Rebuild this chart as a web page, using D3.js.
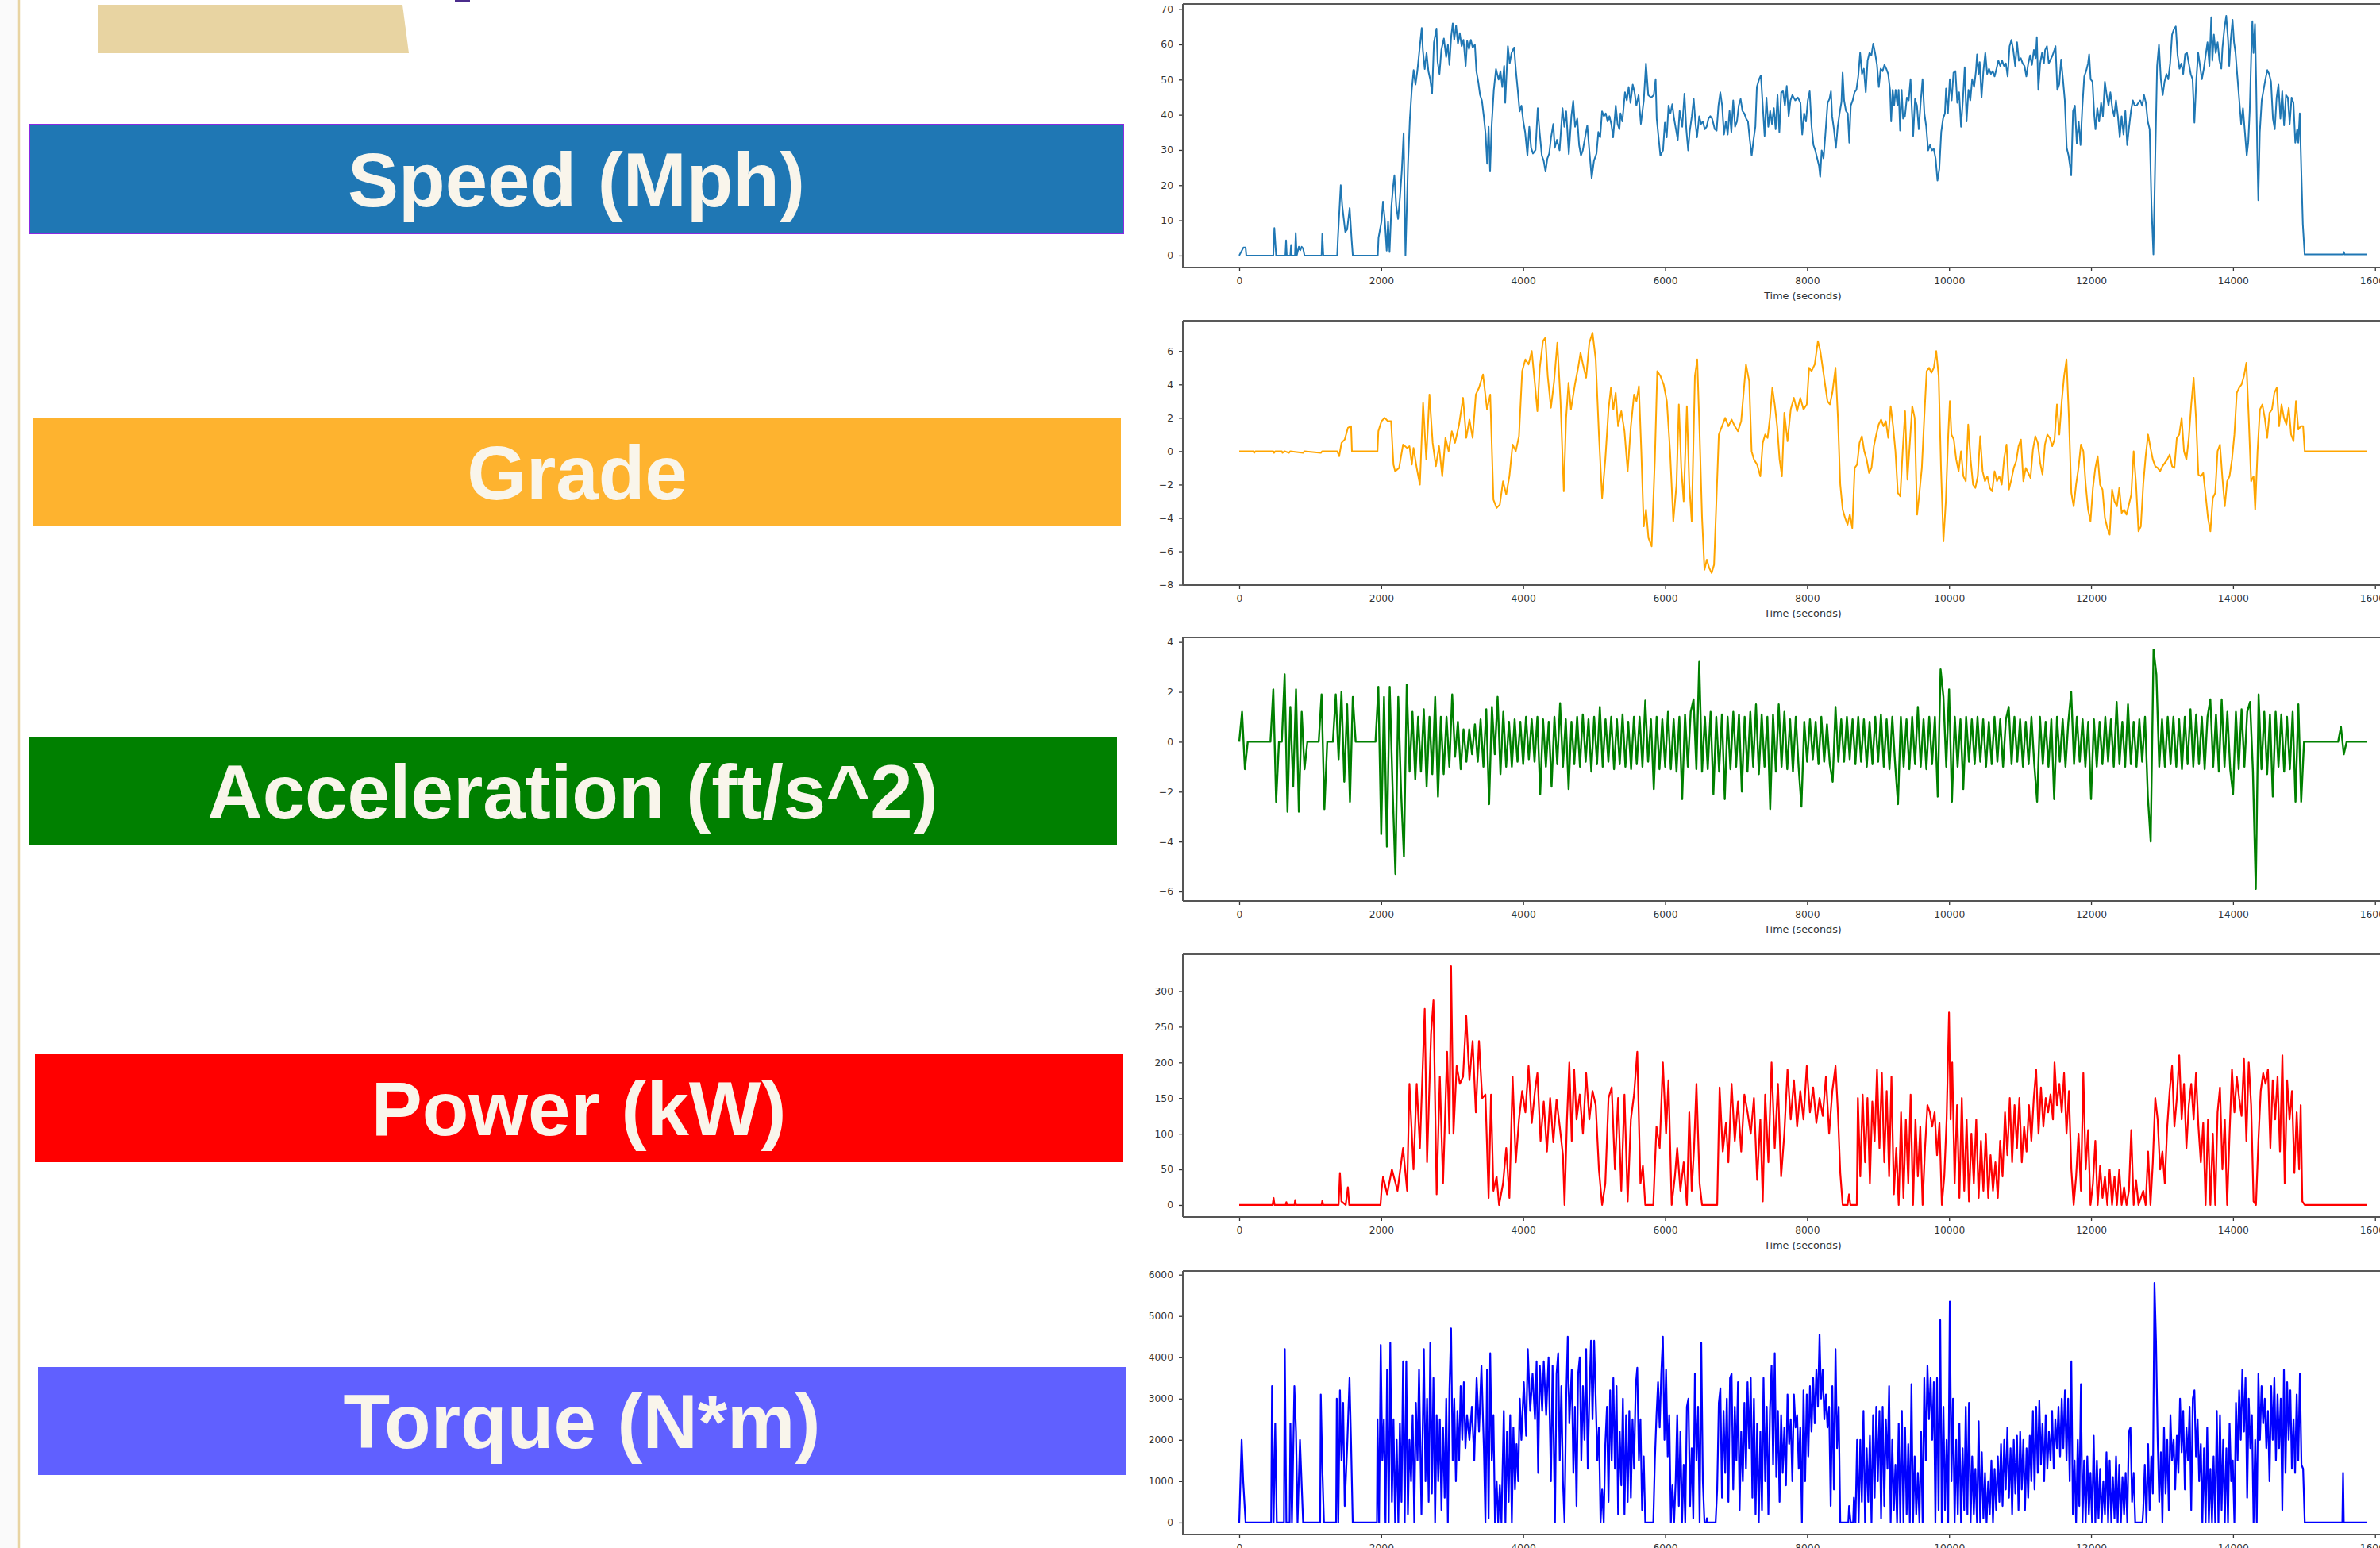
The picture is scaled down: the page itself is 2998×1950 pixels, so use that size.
<!DOCTYPE html>
<html>
<head>
<meta charset="utf-8">
<script src="https://cdn.jsdelivr.net/npm/d3@7"></script>
<style>
  body { margin: 0; background: #fff; }
  svg { display: block; }
</style>
</head>
<body>
<svg id="fig" width="2998" height="1950"></svg>
<script>
// ---- data ----
const timeTicks = [0, 2000, 4000, 6000, 8000, 10000, 12000, 14000, 16000];
const speedTicks = [0, 10, 20, 30, 40, 50, 60, 70];
const gradeTicks = [-8, -6, -4, -2, 0, 2, 4, 6];
const accelTicks = [-6, -4, -2, 0, 2, 4];
const powerTicks = [0, 50, 100, 150, 200, 250, 300];
const torqueTicks = [0, 1000, 2000, 3000, 4000, 5000, 6000];

// [time s, mph]
const speed = [[0,0],[60,2.3],[90,2.3],[100,0],[480,0],[495,7.8],[520,0],[650,0],[660,4.3],[670,0],[720,0],[730,3],[740,0],[785,0],[796,6.4],[810,0],[840,2.5],[860,1.5],[880,2.5],[900,2],[920,0],[1160,0],[1170,6.2],[1185,0],[1380,0],[1390,4.8],[1430,20],[1452,14],[1494,6.7],[1520,7.4],[1556,13.5],[1582,5],[1600,0],[1952,0],[1962,5],[2004,9.7],[2025,15.3],[2050,10.4],[2077,1.4],[2097,9.7],[2118,1],[2144,14],[2170,20],[2186,22.8],[2212,14],[2238,10.4],[2264,16.4],[2290,24],[2316,34.8],[2342,0],[2378,26],[2404,38.9],[2430,47],[2457,52.7],[2483,48.6],[2509,52.4],[2535,57.6],[2571,64.7],[2587,58.4],[2613,53],[2639,57.6],[2665,52.4],[2691,50],[2717,46],[2743,60.6],[2779,64.5],[2795,55],[2821,51.6],[2847,58.4],[2883,61.7],[2915,56.4],[2940,59.9],[2961,54.2],[2987,62.5],[3008,66],[3029,61.3],[3055,65.4],[3081,60.2],[3107,63.2],[3133,59.5],[3159,61.3],[3190,53.9],[3211,61],[3237,58.7],[3263,61.3],[3289,59.1],[3320,59.9],[3341,52.4],[3367,49.4],[3393,45.6],[3419,44],[3445,39.6],[3471,34.4],[3492,26.1],[3513,36.6],[3534,23.9],[3555,36.6],[3586,47],[3617,53],[3654,50],[3680,52.4],[3706,47.9],[3732,53.9],[3747,43.4],[3784,59.5],[3810,54.6],[3836,57.6],[3872,59.1],[3898,52.4],[3924,47],[3950,41],[3976,42.6],[4002,38.1],[4028,35],[4060,28.4],[4086,36.6],[4112,30.6],[4138,29],[4174,30],[4205,41.9],[4232,35],[4263,28.4],[4289,26.9],[4315,23.9],[4341,27.6],[4367,29],[4393,33.6],[4424,37.4],[4445,30.6],[4476,32.9],[4513,29.9],[4554,41.9],[4580,36.6],[4606,41],[4643,28.8],[4679,39.6],[4705,44],[4731,36.6],[4762,38.9],[4788,31.4],[4814,28.4],[4840,29.9],[4866,32.9],[4903,37],[4929,30.6],[4965,22],[4997,26.9],[5033,29],[5059,35.1],[5085,33.6],[5111,41],[5137,39.6],[5163,40.4],[5189,38.1],[5215,39.6],[5241,37.4],[5267,33.6],[5304,42.6],[5330,37.4],[5356,35.9],[5371,40.4],[5397,38.1],[5434,46.4],[5460,44.1],[5486,47.9],[5512,43.4],[5543,48.6],[5569,46.4],[5595,42.6],[5626,45.6],[5658,37.4],[5699,44.1],[5730,54.6],[5762,45.6],[5803,44.9],[5840,45.6],[5866,50.1],[5881,38.9],[5907,33.6],[5933,28.4],[5970,29.9],[5996,37.8],[6022,33.6],[6048,42.6],[6074,40.4],[6100,43],[6126,38.9],[6152,35.9],[6178,32.9],[6204,41.1],[6241,36.6],[6272,46],[6298,35.9],[6324,29.9],[6345,35.1],[6376,39.6],[6402,44.5],[6428,37.4],[6449,33.6],[6480,39.6],[6506,37.4],[6532,38.1],[6558,35.9],[6584,36.6],[6610,38.9],[6636,39.6],[6662,38.9],[6699,35.9],[6725,35.5],[6751,42.6],[6777,46.4],[6803,42.6],[6829,34.4],[6855,38.1],[6881,34.4],[6907,41.1],[6933,35.1],[6959,44.1],[6985,36.6],[7011,38.1],[7037,42.6],[7063,44.5],[7089,41.1],[7115,40.4],[7141,38.9],[7167,38.1],[7193,32.9],[7219,28.4],[7245,32.9],[7271,36.6],[7292,47.9],[7323,50.1],[7349,51.2],[7375,42.6],[7401,34],[7427,44.9],[7453,36.6],[7479,41.1],[7505,37.4],[7531,41.9],[7557,35.9],[7583,45.6],[7609,35.1],[7635,46.4],[7661,46.7],[7687,42.6],[7713,48.2],[7740,39.6],[7766,44.1],[7792,45.6],[7833,44.1],[7870,44.9],[7906,43.4],[7931,34.4],[7958,40.4],[7984,38.1],[8010,44.1],[8036,46.7],[8063,36.6],[8089,31.4],[8115,29.9],[8142,27.6],[8168,25.4],[8184,22.4],[8205,29.9],[8231,27.6],[8257,34.4],[8289,43.4],[8315,44.5],[8336,46.7],[8352,39.6],[8378,35.9],[8405,30.6],[8431,36.6],[8457,40.4],[8484,43.7],[8500,52],[8521,44.1],[8547,41.1],[8573,40.4],[8594,32.1],[8615,42.6],[8642,44.1],[8668,46.4],[8694,47.1],[8720,50.9],[8747,57.6],[8773,51.6],[8799,53.1],[8826,46.4],[8852,55.4],[8878,57.6],[8905,56.9],[8931,60.2],[8957,57.6],[8984,54.2],[9010,47.9],[9036,53.1],[9063,52.4],[9089,54.2],[9115,53.1],[9142,51.6],[9168,47.1],[9184,38.1],[9205,47.1],[9226,42.6],[9247,47.1],[9273,42.6],[9289,47.1],[9310,35.5],[9331,47.1],[9352,38.9],[9378,39.6],[9405,44.9],[9431,44.1],[9457,50.1],[9473,42.6],[9494,34],[9520,44.5],[9547,42.6],[9573,35.9],[9599,43.4],[9626,50.1],[9652,40.4],[9678,36.6],[9705,29.9],[9731,31.4],[9757,29.9],[9784,30.3],[9810,27.6],[9836,21.3],[9862,24.6],[9889,35.1],[9915,38.9],[9941,40.4],[9957,47.5],[9983,40.4],[10010,50.1],[10036,44.1],[10062,52],[10089,52.4],[10115,43.4],[10141,46.4],[10168,36.6],[10194,44.1],[10220,53.5],[10246,38.1],[10273,47.1],[10299,44.1],[10325,50.1],[10352,47.9],[10378,52.4],[10394,57.2],[10415,51.6],[10431,55],[10457,44.9],[10483,52.4],[10510,57.6],[10536,51.6],[10562,53.1],[10589,51.6],[10615,52.4],[10641,50.9],[10668,53.1],[10694,55.4],[10720,53.9],[10746,55.4],[10773,53.9],[10799,54.6],[10825,50.9],[10852,59.5],[10878,61.3],[10904,58.4],[10931,53.9],[10957,60.6],[10983,55.4],[11010,56.1],[11036,54.6],[11062,53.9],[11088,50.9],[11115,54.6],[11141,56.9],[11167,54.2],[11194,58.4],[11220,56.1],[11236,62.1],[11257,47.1],[11283,54.6],[11309,57.6],[11336,54.6],[11352,58.4],[11378,59.5],[11404,54.6],[11430,55.7],[11457,56.9],[11483,58.4],[11499,59.5],[11525,47.1],[11551,48.6],[11578,55.7],[11604,50.1],[11630,44.1],[11657,30.6],[11683,28.4],[11704,25.4],[11720,22.8],[11746,41.1],[11772,42.6],[11799,31.8],[11825,38.1],[11851,31.4],[11878,42.6],[11904,50.9],[11930,52.4],[11957,54.6],[11973,57.2],[11994,50.1],[12020,49.4],[12046,39.6],[12062,35.9],[12088,41.9],[12114,38.1],[12141,43.4],[12167,39.6],[12194,49.4],[12220,45.6],[12246,42.6],[12272,46.4],[12299,41.9],[12325,39.6],[12351,44.1],[12378,39.6],[12404,33.6],[12430,39.6],[12457,34.4],[12483,41.1],[12509,31.4],[12536,36.6],[12562,41.1],[12588,44.1],[12615,42.6],[12641,42.6],[12667,43.4],[12693,44.1],[12720,42.6],[12746,45.6],[12772,43.4],[12799,38.1],[12825,35.9],[12851,14.2],[12878,0.3],[12904,27.6],[12930,53.9],[12956,59.9],[12983,50.1],[13009,45.6],[13035,49.4],[13062,51.6],[13088,50.1],[13114,54.6],[13141,62.8],[13167,64.3],[13193,65.1],[13219,56.9],[13246,53.1],[13272,54.6],[13298,51.6],[13325,57.2],[13351,57.6],[13377,54.6],[13404,51.6],[13430,50.1],[13456,37.8],[13483,50.1],[13509,57.6],[13535,53.9],[13561,50.1],[13588,53.1],[13614,56.9],[13640,60.6],[13667,53.9],[13693,67.7],[13709,55.4],[13730,62.8],[13756,57.6],[13783,60.6],[13809,55.4],[13835,53.1],[13851,59.1],[13877,64.3],[13904,68.1],[13930,61.3],[13946,53.9],[13967,61.3],[13993,67],[14014,60.6],[14035,57.6],[14061,50.9],[14088,44.1],[14114,37.4],[14140,41.9],[14167,35.1],[14193,28.4],[14214,32.1],[14235,41.1],[14256,56.9],[14272,66.6],[14288,57.6],[14309,65.8],[14325,50.1],[14340,30.6],[14356,15.7],[14377,35.1],[14404,44.1],[14430,47.1],[14456,50.1],[14483,52.7],[14509,51.6],[14535,49.4],[14562,38.9],[14588,35.9],[14614,44.9],[14640,48.6],[14667,38.9],[14693,46.7],[14719,37],[14746,45.6],[14772,44.9],[14798,37.4],[14825,44.9],[14851,43.4],[14877,32.1],[14904,35.9],[14919,32.1],[14940,40.4],[14961,24.6],[14983,8.9],[15009,0.3],[15550,0.3],[15561,1],[15572,0.3],[15880,0.3]];

// [time s, %]
const grade = [[0,0],[200,0],[210,-0.1],[230,0],[480,0],[490,-0.1],[510,0],[600,0],[610,-0.1],[640,0],[700,-0.1],[720,0],[900,-0.1],[920,0],[1150,-0.1],[1170,0],[1380,0],[1408,-0.3],[1441,0.5],[1486,0.7],[1531,1.4],[1576,1.5],[1588,0],[1948,0],[1960,1.2],[2004,1.8],[2049,2],[2094,1.8],[2139,1.8],[2173,-0.8],[2196,-1.2],[2252,-1],[2308,0.4],[2365,0.2],[2398,0.3],[2432,-0.8],[2455,0.2],[2500,-1],[2545,-2],[2590,2.9],[2635,-0.5],[2680,3.4],[2725,0.5],[2770,-0.9],[2815,0.3],[2860,-1.5],[2905,0.8],[2950,0],[2995,1.2],[3040,0.5],[3097,1.6],[3153,3.2],[3198,0.8],[3243,1.9],[3288,0.8],[3333,3.4],[3378,3.8],[3434,4.6],[3491,2.5],[3536,3.4],[3581,-2.9],[3626,-3.4],[3671,-3.2],[3716,-1.8],[3761,-2.6],[3806,-1.5],[3851,0.4],[3896,0],[3941,0.9],[3986,4.8],[4031,5.5],[4076,5.2],[4121,6],[4166,4],[4200,2.4],[4234,5],[4279,6.6],[4313,6.8],[4346,4.5],[4391,2.6],[4436,4.2],[4481,6.5],[4526,3],[4572,-2.4],[4605,2],[4639,4.1],[4673,2.5],[4729,4],[4774,5],[4808,5.9],[4842,5.2],[4887,4.4],[4932,6.5],[4977,7.1],[5022,5.5],[5067,1],[5112,-2.8],[5157,-0.5],[5202,2.5],[5236,3.8],[5270,2.5],[5303,3.5],[5337,1.5],[5382,2.4],[5427,1.2],[5472,-1.2],[5517,1.5],[5562,3.4],[5596,3],[5630,3.9],[5664,0],[5698,-4.5],[5731,-3.5],[5765,-5.2],[5810,-5.7],[5855,-0.5],[5889,4.8],[5934,4.5],[5979,4],[6024,3],[6069,0],[6115,-4.2],[6160,-2],[6193,2.8],[6227,-1],[6261,-3],[6306,2.7],[6340,-2],[6374,-4.2],[6419,4.5],[6452,5.5],[6486,1],[6520,-4],[6554,-7.1],[6587,-6.5],[6621,-7],[6655,-7.3],[6689,-6.8],[6722,-3],[6756,1],[6801,1.5],[6846,2],[6891,1.5],[6936,1.9],[6981,1.5],[7026,1.2],[7071,1.8],[7105,3.5],[7139,5.2],[7184,4.2],[7218,0],[7251,-0.5],[7296,-0.8],[7341,-1.5],[7375,0.5],[7409,1],[7443,0.8],[7476,2],[7510,3.8],[7544,2.8],[7578,1.5],[7612,-0.5],[7645,-1.5],[7679,2.3],[7724,0.6],[7769,2.5],[7814,3.2],[7859,2.4],[7904,3.2],[7949,2.5],[7995,2.8],[8028,5],[8062,4.8],[8107,5.2],[8152,6.6],[8186,6],[8220,5],[8253,4],[8287,3],[8321,2.8],[8355,3.5],[8400,5],[8434,2],[8467,-2],[8501,-3.5],[8535,-4],[8569,-4.4],[8602,-3.8],[8636,-4.6],[8670,-1],[8704,-0.8],[8738,0.5],[8771,0.9],[8805,0],[8839,-0.5],[8873,-1.3],[8907,-1],[8940,0.3],[8974,1],[9008,1.6],[9042,1.9],[9076,1.5],[9109,1.8],[9143,0.8],[9177,2.7],[9211,1.5],[9244,0],[9278,-2.5],[9312,-2.7],[9346,0],[9380,2.4],[9413,-1.7],[9447,0.5],[9481,2.7],[9515,2],[9549,-3.8],[9582,-2.5],[9616,-1],[9650,2],[9684,4.8],[9718,5],[9751,4.7],[9785,5],[9819,6],[9853,4.5],[9886,-1],[9920,-5.4],[9954,-3],[9988,1],[10010,3],[10033,1],[10066,0.7],[10100,-0.5],[10134,-1.2],[10168,0],[10201,-1.5],[10235,-1.8],[10269,1.6],[10303,-0.5],[10337,-2],[10370,-2.2],[10404,-1.5],[10438,0.9],[10472,-1.2],[10505,-1.8],[10539,-1.5],[10573,-2.2],[10607,-2.4],[10641,-1.2],[10674,-1.8],[10708,-1.5],[10742,-2],[10776,-0.4],[10809,0.4],[10843,-2.3],[10877,-1.7],[10911,-1],[10945,-0.6],[10978,0.3],[11012,0.7],[11046,-1.8],[11080,-1],[11114,-1.3],[11147,-1.6],[11181,0.1],[11215,0.9],[11249,0.5],[11283,-0.7],[11316,-1.4],[11350,0.4],[11384,1],[11418,0.8],[11452,0.3],[11485,0.7],[11519,2.8],[11553,1],[11587,3],[11620,4.5],[11654,5.5],[11688,2],[11722,-2.5],[11755,-3.3],[11789,-2],[11823,-1],[11857,0.4],[11891,0],[11924,-2],[11958,-3.5],[11992,-4.2],[12026,-2.2],[12060,-1],[12093,-0.3],[12127,-2],[12161,-2.3],[12195,-4],[12229,-4.6],[12262,-5],[12296,-2.3],[12330,-3],[12364,-3.3],[12397,-2.2],[12431,-3.7],[12465,-3.5],[12499,-3.8],[12533,-3.2],[12566,-2.6],[12600,0],[12634,-2],[12668,-4.8],[12701,-4.5],[12735,-2],[12769,-0.3],[12803,1],[12837,0.2],[12870,-0.5],[12904,-0.9],[12938,-1],[12972,-1.2],[13005,-0.9],[13039,-0.7],[13073,-0.5],[13107,-0.2],[13141,-0.9],[13174,-1],[13208,0.8],[13242,1],[13276,2],[13309,0],[13343,-0.5],[13377,0.8],[13411,2.8],[13445,4.4],[13478,2],[13512,-1.4],[13546,-1.5],[13580,-1.3],[13613,-2.6],[13647,-4],[13681,-4.8],[13715,-2.8],[13749,-2.5],[13782,0],[13816,0.4],[13850,-1.6],[13884,-3.3],[13917,-1.8],[13951,-1.5],[13985,-0.5],[14019,1],[14053,3.5],[14086,3.8],[14120,4],[14154,4.5],[14188,5.3],[14221,2],[14255,-1.8],[14289,-1.5],[14312,-3.5],[14345,0],[14379,2.5],[14413,2.8],[14447,2],[14481,0.8],[14514,2.3],[14548,2.5],[14582,3.5],[14616,3.8],[14649,1.5],[14683,2.8],[14717,2],[14751,1.6],[14785,2.6],[14818,1],[14852,0.6],[14886,3],[14920,1.3],[14953,1.5],[14987,1.5],[15010,0],[15880,0]];

// ft/s^2, one value every accelStep seconds
const accelStep = 40;
const accel = [
  0, 1.2, -1.1, 0, 0, 0, 0, 0, 0, 0,
  0, 0, 2.1, -2.4, 0, 0, 2.7, -2.8, 1.4, -1.8,
  2.1, -2.8, 1.2, -1.1, 0, 0, 0, 0, 0, 1.9,
  -2.7, 0, 0, 0, 1.9, -0.7, 2.0, -1.6, 1.5, -2.4,
  1.8, 0, 0, 0, 0, 0, 0, 0, 0, 2.2,
  -3.7, 1.8, -4.2, 2.2, -1.8, -5.3, 1.8, -2.0, -4.6, 2.3,
  -1.2, 1.2, -1.5, 1.0, -1.2, 1.3, -1.8, 1.0, -1.3, 1.8,
  -2.2, 1.0, -1.3, 1.0, -1.0, 1.9, -0.6, 0.8, -1.1, 0.5,
  -0.8, 0.5, -0.5, 0.7, -0.8, 0.9, -1.0, 1.3, -2.5, 1.4,
  -0.5, 1.8, -1.3, 1.2, -1.0, 0.8, -1.0, 0.9, -0.8, 0.8,
  -0.9, 1.0, -0.7, 0.9, -0.8, 1.0, -2.1, 0.9, -1.0, 0.8,
  -1.8, 1.0, -0.9, 1.55, -1.0, 0.9, -1.9, 0.8, -0.9, 1.0,
  -1.0, 1.1, -0.8, 0.9, -1.2, 1.0, -0.9, 1.4, -1.0, 0.9,
  -0.8, 1.0, -1.1, 0.9, -0.9, 1.1, -1.0, 0.8, -1.1, 1.0,
  -0.9, 1.0, -1.0, 1.65, -0.8, 0.9, -1.9, 1.0, -1.1, 0.9,
  -1.0, 1.2, -1.1, 0.9, -1.2, 1.0, -2.3, 1.1, -1.0, 1.2,
  1.7, -1.1, 3.2, -1.2, 1.0, -1.1, 1.2, -2.1, 1.0, -1.2,
  1.1, -2.3, 1.0, -1.1, 1.2, -1.0, 1.1, -2.0, 1.0, -1.2,
  1.2, -1.0, 1.5, -1.3, 1.1, -1.0, 1.0, -2.7, 1.1, -1.2,
  1.5, -1.0, 1.2, -1.1, 0.9, -1.2, 1.0, -1.0, -2.6, 0.8,
  -0.8, 0.9, -0.7, 0.8, -0.9, 1.0, -0.8, 0.7, -0.9, -1.6,
  1.4, -0.8, 0.9, -0.8, 1.0, -0.7, 0.9, -0.9, 1.0, -0.8,
  0.9, -1.0, 0.8, -0.9, 1.0, -0.8, 1.1, -1.0, 0.9, -1.1,
  1.0, -0.9, -2.5, 1.0, -1.0, 0.9, -1.1, 1.0, -0.9, 1.4,
  -1.0, 0.9, -1.1, 1.0, -0.9, 1.0, -2.2, 2.9, 1.8, -1.0,
  2.1, -2.4, 1.0, -1.0, 0.9, -1.9, 1.0, -0.8, 0.9, -0.9,
  1.0, -0.8, 0.9, -1.0, 0.8, -0.9, 1.0, -0.8, 0.9, -1.0,
  0.9, 1.4, -0.9, 1.0, -0.8, 0.9, -1.0, 0.8, -0.9, 1.0,
  -0.9, -2.4, 1.0, -0.9, 0.8, -1.0, 0.9, -2.3, 1.0, -0.8,
  0.9, -1.0, 0.8, 2.0, -0.9, 1.0, -0.8, 0.9, -1.0, 0.8,
  -2.3, 0.9, -1.0, 0.8, -0.9, 1.0, -0.8, 0.9, -1.0, 1.6,
  -0.9, 0.8, -1.0, 1.5, -0.9, 0.8, -1.0, 0.9, -0.8, 1.0,
  -2.2, -4.0, 3.7, 2.7, -1.0, 0.9, -1.0, 1.0, -0.9, 1.0,
  -1.0, 0.9, -1.1, 1.0, -0.9, 1.3, -1.0, 1.1, -0.9, 1.0,
  -1.1, 1.0, 1.7, -1.0, 1.1, -1.2, 1.7, -1.0, 1.2, -1.1,
  -2.1, 1.2, -1.1, 1.3, -1.0, 1.2, 1.6, -1.2, -5.9, 1.9,
  -1.1, 1.2, -1.3, 1.1, -2.2, 1.2, -1.0, 1.1, -1.2, 1.0,
  -1.1, 1.2, -2.4, 1.5, -2.4, 0, 0, 0, 0, 0,
  0, 0, 0, 0, 0, 0, 0, 0, 0.6, -0.5,
  0, 0, 0, 0, 0, 0, 0, 0
];

// [time s, kW]
const power = [[0,0],[470,0],[484,10],[498,0],[655,0],[664,4],[673,0],[780,0],[788,7],[800,0],[1160,0],[1171,6],[1182,0],[1400,0],[1419,45],[1440,5],[1500,0],[1531,25],[1550,0],[1990,0],[2004,20],[2027,40],[2083,15],[2151,50],[2230,20],[2308,80],[2365,20],[2398,170],[2455,50],[2500,170],[2545,80],[2613,275],[2646,60],[2702,240],[2736,287],[2781,15],[2826,180],[2871,30],[2928,215],[2961,100],[2984,335],[3018,100],[3063,195],[3108,170],[3153,180],[3198,265],[3243,175],[3288,230],[3333,130],[3378,230],[3423,150],[3468,155],[3513,10],[3547,155],[3581,20],[3626,40],[3660,0],[3716,30],[3761,80],[3806,10],[3851,180],[3896,60],[3941,120],[3986,160],[4031,130],[4076,195],[4121,115],[4166,160],[4200,185],[4245,90],[4290,145],[4335,75],[4380,150],[4425,88],[4470,148],[4515,110],[4560,70],[4583,0],[4617,120],[4650,200],[4684,90],[4718,190],[4752,120],[4797,155],[4842,100],[4887,185],[4932,120],[4977,160],[5022,140],[5067,50],[5112,0],[5157,30],[5202,150],[5247,165],[5292,50],[5337,150],[5382,20],[5427,155],[5472,5],[5517,120],[5562,155],[5607,215],[5652,30],[5686,55],[5720,0],[5833,0],[5878,110],[5923,80],[5968,200],[6013,100],[6047,175],[6092,0],[6137,40],[6170,80],[6215,20],[6261,60],[6306,0],[6340,130],[6374,20],[6407,80],[6441,170],[6486,30],[6520,0],[6733,0],[6767,165],[6812,75],[6857,115],[6891,60],[6936,170],[6981,90],[7026,145],[7071,75],[7116,155],[7161,130],[7206,100],[7251,150],[7296,35],[7341,120],[7375,5],[7409,155],[7454,60],[7499,200],[7544,80],[7589,170],[7634,40],[7679,100],[7724,190],[7769,120],[7814,175],[7859,110],[7904,160],[7949,120],[7995,195],[8040,130],[8085,165],[8130,115],[8175,150],[8220,125],[8265,180],[8310,100],[8355,160],[8400,195],[8434,130],[8467,45],[8501,0],[8570,0],[8591,15],[8610,0],[8700,0],[8715,150],[8749,40],[8782,155],[8816,60],[8850,150],[8884,30],[8918,145],[8951,90],[8985,190],[9019,80],[9053,185],[9087,60],[9121,160],[9155,40],[9188,180],[9222,15],[9256,80],[9290,0],[9323,130],[9357,10],[9391,120],[9425,30],[9458,155],[9492,0],[9526,120],[9560,40],[9594,110],[9627,0],[9661,80],[9695,140],[9729,130],[9762,110],[9796,130],[9830,70],[9864,115],[9898,0],[9932,40],[9965,120],[9999,270],[10021,120],[10044,200],[10078,30],[10112,140],[10145,10],[10179,150],[10213,20],[10247,120],[10280,5],[10314,100],[10348,30],[10382,120],[10416,10],[10449,90],[10483,20],[10517,100],[10551,10],[10584,70],[10618,20],[10652,60],[10686,10],[10719,90],[10753,40],[10787,130],[10821,70],[10855,150],[10888,60],[10922,140],[10956,80],[10990,150],[11024,60],[11057,110],[11091,75],[11125,140],[11159,90],[11193,150],[11226,190],[11260,100],[11294,165],[11328,110],[11361,150],[11395,130],[11429,155],[11463,120],[11485,200],[11519,140],[11553,170],[11587,130],[11620,185],[11654,100],[11688,160],[11722,50],[11755,0],[11789,40],[11823,100],[11857,20],[11891,185],[11924,50],[11958,105],[11992,0],[12026,30],[12060,90],[12093,0],[12127,55],[12161,10],[12195,40],[12229,0],[12262,50],[12296,0],[12330,40],[12364,0],[12397,50],[12431,0],[12465,25],[12499,0],[12533,20],[12566,105],[12600,0],[12634,35],[12668,0],[12735,20],[12769,0],[12803,75],[12837,0],[12870,60],[12904,150],[12938,120],[12972,50],[13005,75],[13039,30],[13073,110],[13107,160],[13141,195],[13174,110],[13208,150],[13242,210],[13276,120],[13309,170],[13343,80],[13377,140],[13411,170],[13445,120],[13478,185],[13512,110],[13546,60],[13580,115],[13613,0],[13647,120],[13681,0],[13715,100],[13749,0],[13782,130],[13816,165],[13850,50],[13884,120],[13917,0],[13951,100],[13985,190],[14019,130],[14053,180],[14086,150],[14120,125],[14154,205],[14188,90],[14221,200],[14255,140],[14289,5],[14323,0],[14357,90],[14390,160],[14424,185],[14458,170],[14492,190],[14526,80],[14559,175],[14593,120],[14627,180],[14661,75],[14695,210],[14728,30],[14762,175],[14796,120],[14830,160],[14864,45],[14897,130],[14931,50],[14953,140],[14976,5],[15010,0],[15880,0]];

// [time s, N*m]
const torque = [[0,0],[34,2000],[56,1000],[90,0],[450,0],[462,3300],[484,0],[507,2400],[529,0],[630,0],[642,4200],[664,0],[710,0],[721,2400],[743,0],[777,3300],[800,2200],[822,0],[856,2000],[878,1000],[900,0],[1140,0],[1149,3100],[1171,1300],[1194,0],[1365,0],[1374,3000],[1396,0],[1419,3200],[1441,1500],[1464,2900],[1486,400],[1520,1800],[1554,3500],[1576,1900],[1599,0],[1940,0],[1948,2500],[1970,0],[1993,4300],[2016,1500],[2038,2500],[2061,0],[2083,3700],[2106,0],[2128,4350],[2151,500],[2173,2500],[2196,0],[2218,2000],[2241,0],[2263,2400],[2286,500],[2308,3900],[2331,0],[2353,3900],[2376,200],[2398,2000],[2421,1000],[2443,2600],[2466,0],[2488,2900],[2511,1500],[2533,3700],[2567,200],[2601,4200],[2624,1000],[2646,3000],[2669,500],[2691,4350],[2714,700],[2736,3500],[2759,0],[2781,2600],[2804,1000],[2826,2500],[2849,300],[2871,2300],[2894,600],[2916,3000],[2939,0],[2961,3200],[2984,4700],[3007,1500],[3029,3000],[3052,1000],[3074,2700],[3097,1500],[3119,3300],[3142,2000],[3164,3400],[3187,1800],[3209,2600],[3243,2000],[3277,2800],[3311,1500],[3344,3500],[3378,2200],[3412,3800],[3446,1800],[3468,0],[3491,3700],[3513,100],[3536,4100],[3558,1500],[3581,2600],[3603,0],[3626,1000],[3648,0],[3671,900],[3694,0],[3727,2700],[3750,0],[3772,2200],[3795,500],[3817,2600],[3840,0],[3862,2300],[3885,800],[3907,1900],[3930,1000],[3952,3000],[3975,2000],[4009,3400],[4042,2100],[4065,4200],[4099,2700],[4132,3600],[4166,2500],[4189,3900],[4211,1200],[4234,3800],[4268,2700],[4290,3900],[4324,2600],[4358,4000],[4391,1000],[4414,3800],[4448,0],[4470,3600],[4493,4100],[4515,1500],[4538,3300],[4560,1000],[4583,0],[4605,2900],[4628,4500],[4650,2400],[4684,3700],[4707,1200],[4729,2800],[4752,400],[4774,3600],[4797,4000],[4819,1500],[4842,3300],[4864,2000],[4887,4200],[4910,1300],[4932,3000],[4955,4400],[4977,2500],[5000,4400],[5022,3000],[5045,1500],[5067,2300],[5090,0],[5112,800],[5135,0],[5157,1900],[5180,2800],[5202,500],[5225,3200],[5247,1500],[5270,3500],[5292,1300],[5315,3300],[5337,200],[5360,2200],[5382,900],[5405,3000],[5427,200],[5450,2600],[5472,500],[5495,2700],[5517,600],[5540,2500],[5562,1300],[5585,3300],[5607,3750],[5630,1500],[5652,2500],[5675,300],[5698,1600],[5720,0],[5833,0],[5855,1500],[5878,2600],[5900,3400],[5923,2300],[5945,3600],[5968,4500],[5990,2000],[6013,3700],[6036,1600],[6058,2600],[6081,0],[6103,900],[6126,0],[6148,1000],[6170,2600],[6193,400],[6215,2200],[6238,0],[6261,1400],[6283,0],[6306,2800],[6328,3000],[6351,400],[6374,1800],[6396,100],[6419,3600],[6441,1500],[6464,2800],[6486,0],[6509,4350],[6531,1000],[6554,0],[6580,0],[6588,100],[6596,0],[6711,0],[6733,800],[6756,2900],[6778,3250],[6801,600],[6823,2700],[6846,1200],[6869,3000],[6891,500],[6914,3500],[6936,3600],[6959,800],[6981,2800],[7004,1500],[7026,3400],[7049,300],[7071,2200],[7094,1000],[7116,2900],[7139,1300],[7161,3400],[7184,1800],[7206,3500],[7229,600],[7251,3000],[7274,200],[7296,2400],[7319,0],[7341,2200],[7364,300],[7386,3500],[7409,1000],[7431,2800],[7454,200],[7476,2700],[7499,3800],[7521,1400],[7544,4100],[7566,1100],[7589,2700],[7612,500],[7634,2600],[7656,1200],[7679,2300],[7702,900],[7724,3100],[7747,1900],[7769,2500],[7792,1000],[7814,3100],[7837,2300],[7859,2600],[7882,1300],[7904,2300],[7927,0],[7949,3200],[7972,1000],[7995,3100],[8017,1600],[8040,3300],[8062,2200],[8085,3500],[8107,2400],[8130,3700],[8152,2800],[8175,4550],[8197,3000],[8220,3700],[8242,2500],[8265,3100],[8287,2300],[8310,2800],[8332,400],[8355,3300],[8377,800],[8400,4200],[8422,1800],[8445,2800],[8467,0],[8580,0],[8591,400],[8614,0],[8648,0],[8659,600],[8681,0],[8704,2000],[8726,0],[8749,2000],[8771,500],[8794,2700],[8816,0],[8839,1800],[8861,500],[8884,2100],[8907,0],[8929,2600],[8951,600],[8974,2800],[8996,1000],[9019,2700],[9042,100],[9064,2800],[9087,400],[9109,2500],[9132,1300],[9155,3300],[9177,0],[9199,2000],[9222,300],[9244,1400],[9267,0],[9290,2400],[9312,0],[9335,2700],[9357,0],[9380,2300],[9402,200],[9425,1900],[9447,0],[9470,3350],[9492,0],[9515,1600],[9537,200],[9560,1200],[9582,0],[9605,2200],[9627,0],[9650,3500],[9672,1500],[9695,3800],[9717,2500],[9740,3500],[9762,2000],[9785,3400],[9807,0],[9830,3500],[9852,300],[9875,4900],[9897,0],[9920,2800],[9942,300],[9965,2000],[9987,0],[10010,5350],[10033,1000],[10055,3000],[10078,0],[10100,2000],[10123,200],[10145,2400],[10168,0],[10190,1800],[10213,300],[10235,2800],[10258,200],[10280,2900],[10303,0],[10325,1600],[10348,200],[10370,1300],[10393,0],[10416,2450],[10438,0],[10461,1700],[10483,100],[10506,1200],[10528,0],[10551,1000],[10573,200],[10596,1500],[10618,0],[10641,1300],[10663,300],[10686,1600],[10708,500],[10731,1900],[10753,400],[10776,2000],[10798,800],[10821,2300],[10843,600],[10866,1800],[10888,200],[10911,2000],[10933,700],[10956,2100],[10978,300],[11001,2200],[11024,800],[11046,2000],[11069,300],[11091,1800],[11114,600],[11136,2100],[11159,1000],[11181,2700],[11204,800],[11226,2800],[11249,1200],[11271,2950],[11294,1400],[11316,2400],[11339,1000],[11361,2600],[11384,1300],[11406,2200],[11429,1500],[11451,2700],[11474,1300],[11496,2500],[11519,1800],[11541,2800],[11564,1600],[11587,3000],[11609,1800],[11632,3200],[11654,1500],[11677,3000],[11699,1000],[11722,3900],[11744,200],[11767,1500],[11789,0],[11812,2000],[11834,400],[11857,3350],[11879,0],[11902,1500],[11924,0],[11947,1600],[11969,200],[11992,1200],[12014,0],[12037,2100],[12060,0],[12082,1500],[12105,100],[12127,1300],[12150,0],[12172,1000],[12195,200],[12217,1700],[12240,0],[12262,1500],[12285,0],[12307,1100],[12330,100],[12352,1600],[12375,0],[12397,1400],[12420,0],[12442,1100],[12465,200],[12487,1200],[12510,0],[12532,2200],[12555,2300],[12577,500],[12600,1200],[12622,0],[12724,0],[12735,300],[12757,1400],[12780,0],[12803,1900],[12825,300],[12848,1600],[12870,700],[12893,5800],[12915,4400],[12938,2000],[12960,500],[12983,1700],[13005,0],[13028,2300],[13050,700],[13073,2000],[13095,300],[13118,2600],[13140,1500],[13163,2000],[13185,800],[13208,2100],[13230,1200],[13253,3000],[13276,1700],[13298,2700],[13321,800],[13343,2300],[13366,1500],[13388,2800],[13411,300],[13433,3000],[13456,3200],[13478,1600],[13501,2500],[13523,1000],[13546,1900],[13568,0],[13591,1800],[13613,0],[13636,2300],[13659,0],[13681,1300],[13704,0],[13726,1600],[13749,0],[13771,2700],[13794,0],[13816,2600],[13839,300],[13861,2000],[13884,0],[13906,1800],[13929,0],[13951,2400],[13974,1000],[13996,1500],[14019,0],[14041,2900],[14064,1500],[14086,3200],[14109,2000],[14131,3700],[14154,2200],[14176,3500],[14199,600],[14221,3000],[14244,1800],[14266,2600],[14289,0],[14312,2000],[14334,0],[14357,3600],[14379,2000],[14402,3300],[14424,2400],[14447,3000],[14469,1800],[14492,2700],[14514,1000],[14537,3300],[14559,2000],[14582,3500],[14604,1500],[14627,3100],[14649,1800],[14672,3000],[14694,300],[14717,3700],[14739,1200],[14762,3400],[14784,2000],[14807,3200],[14829,1300],[14852,2500],[14874,1200],[14897,3100],[14919,1500],[14942,3600],[14964,1400],[14987,1300],[15010,0],[15540,0],[15550,1200],[15560,0],[15880,0]];

// ---- layout ----
const W = 2998, H = 1950;
const svg = d3.select('#fig');

svg.append('rect').attr('width', W).attr('height', H).attr('fill', '#fff');
svg.append('rect').attr('width', 23).attr('height', H).attr('fill', '#fafafa');
svg.append('line')
  .attr('x1', 24).attr('x2', 24).attr('y1', 0).attr('y2', H)
  .attr('stroke', '#e8d4a2').attr('stroke-width', 2.5);
svg.append('path').attr('d', 'M124,6H507L515,67H124Z').attr('fill', '#e8d4a2');
svg.append('rect').attr('x', 573).attr('y', 0).attr('width', 19).attr('height', 2).attr('fill', '#4b2c8c');

const panels = [
  { title: 'Speed (Mph)', box: [37, 157, 1415, 294], boxFill: '#1f77b4', edge: '#8a2be2',
    top: 5, bottom: 337, data: speed, color: '#1f77b4', width: 2, yLabel: 'Speed (mph)', ticks: speedTicks },
  { title: 'Grade', box: [42, 527, 1412, 663], boxFill: '#feb32f',
    top: 404, bottom: 737, data: grade, color: '#ffa500', width: 2, yLabel: 'Grade (%)', ticks: gradeTicks },
  { title: 'Acceleration (ft/s^2)', box: [36, 929, 1407, 1064], boxFill: '#008000',
    top: 803, bottom: 1135, data: accel.map((v, i) => [i * accelStep, v]), color: '#008000', width: 2.4,
    yLabel: 'Acceleration (ft/s^2)', ticks: accelTicks },
  { title: 'Power (kW)', box: [44, 1328, 1414, 1464], boxFill: '#ff0000',
    top: 1202, bottom: 1533, data: power, color: '#ff0000', width: 2.2, yLabel: 'Power (kW)', ticks: powerTicks },
  { title: 'Torque (N*m)', box: [48, 1722, 1418, 1858], boxFill: '#6060ff',
    top: 1601, bottom: 1933, data: torque, color: '#0000ff', width: 2.2, yLabel: 'Torque (Nm)', ticks: torqueTicks }
];

const axLeft = 1490, axRight = 3052;
const tMax = d3.max(panels, p => d3.max(p.data, d => d[0]));
const x = d3.scaleLinear().domain([-0.05 * tMax, 1.05 * tMax]).range([axLeft, axRight]);
const fmt = d3.format('d');
const tickFont = 'DejaVu Sans, Verdana, sans-serif';

panels.forEach((p, i) => {
  // coloured title box
  const [bx0, by0, bx1, by1] = p.box;
  svg.append('rect')
    .attr('x', bx0).attr('y', by0).attr('width', bx1 - bx0).attr('height', by1 - by0)
    .attr('fill', p.boxFill)
    .attr('stroke', p.edge || 'none').attr('stroke-width', p.edge ? 2 : 0);
  svg.append('text')
    .attr('x', (bx0 + bx1) / 2).attr('y', (by0 + by1) / 2 + 34)
    .attr('text-anchor', 'middle')
    .attr('font-family', 'Liberation Sans, Arial, sans-serif')
    .attr('font-weight', 'bold').attr('font-size', 96)
    .attr('fill', '#f9f5eb')
    .text(p.title);

  // chart
  const [lo, hi] = d3.extent(p.data, d => d[1]);
  const pad = (hi - lo) * 0.05;
  const y = d3.scaleLinear().domain([lo - pad, hi + pad]).range([p.bottom, p.top]);
  const g = svg.append('g');

  g.append('clipPath').attr('id', 'clip' + i)
    .append('rect').attr('x', axLeft).attr('y', p.top).attr('width', axRight - axLeft).attr('height', p.bottom - p.top);

  const line = d3.line().x(d => x(d[0])).y(d => y(d[1]));
  g.append('path')
    .datum(p.data)
    .attr('clip-path', `url(#clip${i})`)
    .attr('d', line)
    .attr('fill', 'none')
    .attr('stroke', p.color)
    .attr('stroke-width', p.width)
    .attr('stroke-linejoin', 'round');

  const ya = g.append('g').attr('transform', `translate(${axLeft},0)`)
    .call(d3.axisLeft(y).tickValues(p.ticks).tickFormat(fmt).tickSize(5).tickPadding(7));
  const xa = g.append('g').attr('transform', `translate(0,${p.bottom})`)
    .call(d3.axisBottom(x).tickValues(timeTicks).tickFormat(fmt).tickSize(5).tickPadding(7));
  [ya, xa].forEach(a => {
    a.select('.domain').remove();
    a.attr('font-family', tickFont).attr('font-size', 12.3);
    a.selectAll('.tick line').attr('stroke', '#333').attr('stroke-width', 1.3);
    a.selectAll('.tick text').attr('fill', '#333');
  });

  // spines
  g.append('line').attr('x1', axLeft).attr('x2', W).attr('y1', p.top).attr('y2', p.top)
    .attr('stroke', '#222').attr('stroke-width', 1.4);
  g.append('line').attr('x1', axLeft).attr('x2', W).attr('y1', p.bottom).attr('y2', p.bottom)
    .attr('stroke', '#555').attr('stroke-width', 2);
  g.append('line').attr('x1', axLeft).attr('x2', axLeft).attr('y1', p.top).attr('y2', p.bottom)
    .attr('stroke', '#555').attr('stroke-width', 2);

  // axis labels
  const bb = ya.node().getBBox();
  g.append('text')
    .attr('transform', `translate(${bb.x - 10},${(p.top + p.bottom) / 2}) rotate(-90)`)
    .attr('text-anchor', 'middle')
    .attr('font-family', tickFont).attr('font-size', 12.8).attr('fill', '#333')
    .text(p.yLabel);
  g.append('text')
    .attr('x', (axLeft + axRight) / 2).attr('y', p.bottom + 40)
    .attr('text-anchor', 'middle')
    .attr('font-family', tickFont).attr('font-size', 12.8).attr('fill', '#333')
    .text('Time (seconds)');
});
</script>
</body>
</html>
